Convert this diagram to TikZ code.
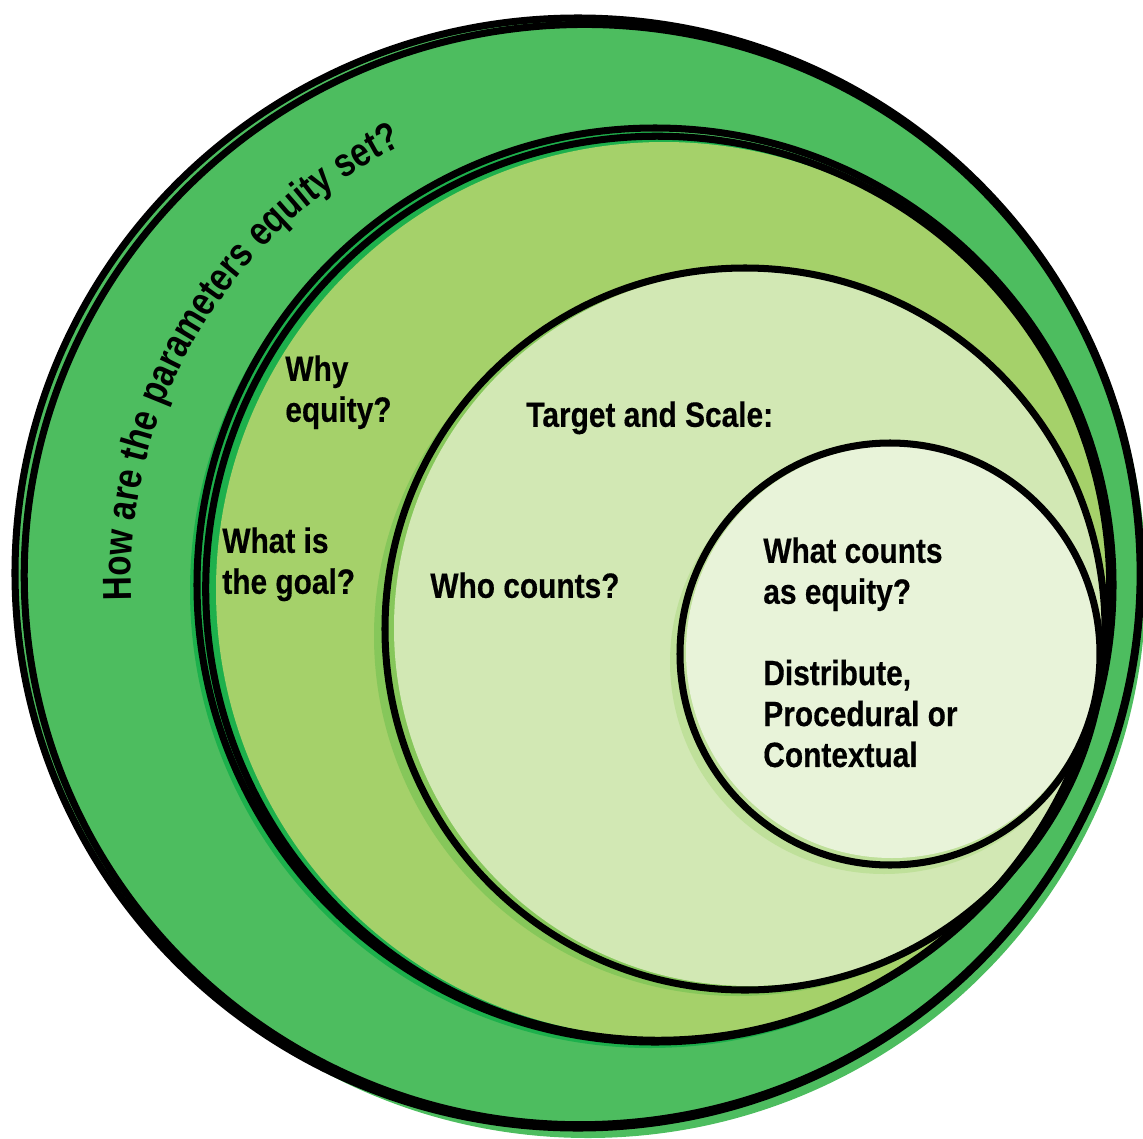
\documentclass[tikz,border=0pt]{standalone}
\usepackage{fontspec}
\newfontfamily\cnd{Liberation Sans}[FakeStretch=0.85,FakeBold=0.4]
\newfontfamily\cndc{Liberation Sans}[FakeStretch=0.82]
\usetikzlibrary{decorations.text}
\definecolor{gOuter}{HTML}{4DBD5F}
\definecolor{gDark}{HTML}{1DB04C}
\definecolor{gMid}{HTML}{A5D16A}
\definecolor{gMidAcc}{HTML}{86C75A}
\definecolor{gLight}{HTML}{D2E8B4}
\definecolor{gLightAcc}{HTML}{BFE09A}
\definecolor{gPale}{HTML}{E8F3D9}
\newcommand{\curvefont}{\cndc\bfseries\fontsize{23}{25}\selectfont}
\begin{document}
\begin{tikzpicture}[x=0.02cm,y=-0.02cm,
  outline/.style={draw=black,line width=4pt},
  lbl/.style={font=\cnd\bfseries\fontsize{20}{23.3}\selectfont, align=left, anchor=north west, inner sep=0pt}]
\useasboundingbox (0,0) rectangle (1143,1139);
% ---- fills ----
\fill[gOuter] (588,582) ellipse [x radius=558, y radius=556];
\fill[gOuter] (578,573) ellipse [x radius=563, y radius=555];
\fill[gDark] (650,590) ellipse [x radius=460, y radius=458];
\fill[gMid] (664,590) ellipse [x radius=448, y radius=448];
\fill[gMidAcc] (738,636) ellipse [x radius=364, y radius=360];
\fill[gLight] (750,628) ellipse [x radius=356, y radius=358];
\fill[gLightAcc] (884,662) ellipse [x radius=214, y radius=212];
\fill[gPale] (892,652) ellipse [x radius=206, y radius=206];
% ---- outlines ----
\draw[outline] (578,573) ellipse [x radius=563, y radius=555];
\draw[outline, rotate around={6:(578,573)}] (582,575) ellipse [x radius=558, y radius=550];
\draw[outline] (655,585) ellipse [x radius=458, y radius=457];
\draw[outline, rotate around={-5:(655,585)}] (658,588) ellipse [x radius=452, y radius=452];
\draw[outline] (745,629) ellipse [x radius=360, y radius=361];
\draw[outline] (890,654) ellipse [x radius=210, y radius=211];
% ---- curved title ----
\path[decorate, decoration={text along path, text align={left indent=0pt},
  text={|\curvefont|How are the parameters equity set?}}]
  ([shift={(615,580)}]177.6:484) arc [start angle=177.6, end angle=260, radius=484];
% ---- labels ----
\node[lbl] (why) at (285,355) {Why\\equity?};
\node[lbl] (goal) at (222,527) {What is\\the goal?};
\node[lbl] (target) at (526,401) {Target and Scale:};
\node[lbl] (who) at (430,572) {Who counts?};
\node[lbl] (what) at (763,537) {What counts\\as equity?\\[23pt]Distribute,\\Procedural or\\Contextual};
\end{tikzpicture}
\end{document}
